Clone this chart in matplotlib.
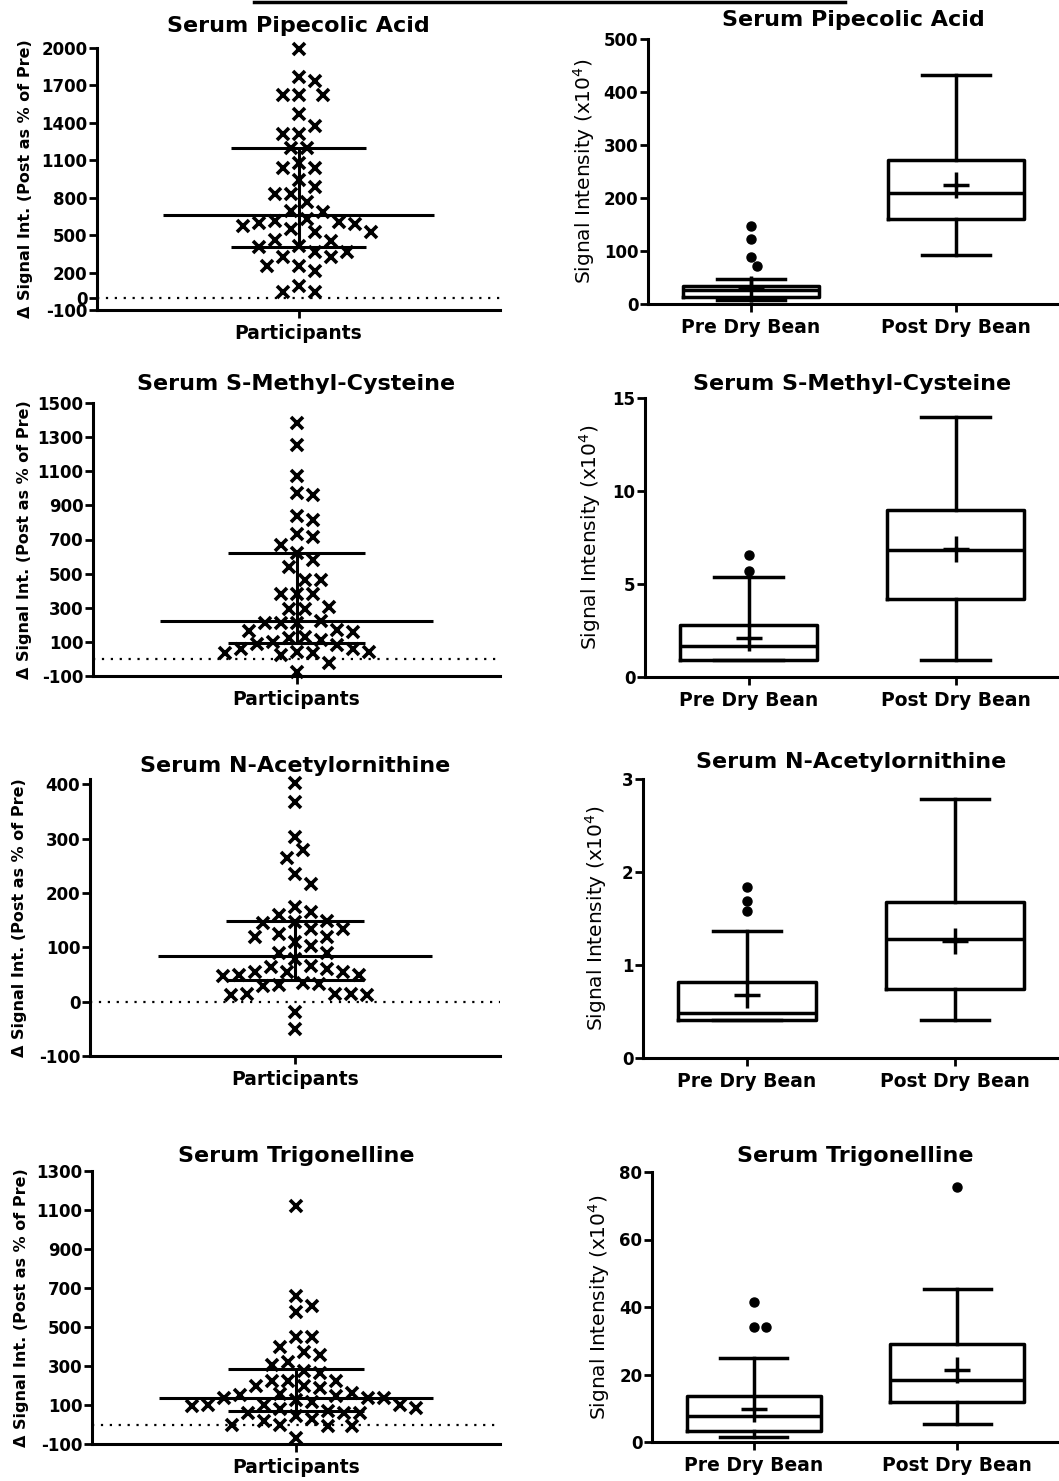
import numpy as np
import matplotlib
matplotlib.use('Agg')
import matplotlib.pyplot as plt
from matplotlib.lines import Line2D

plt.rcParams['font.family'] = 'DejaVu Sans'

# ---- data ----
titles = ["Serum Pipecolic Acid", "Serum S-Methyl-Cysteine",
          "Serum N-Acetylornithine", "Serum Trigonelline"]
groups = ["Pre Dry Bean", "Post Dry Bean"]

# change (post as % of pre), one value per participant
pip_delta = [1990, 1767, 1732, 1620, 1620, 1620, 1470, 1376, 1309, 1309, 1202, 1202,
             1082, 1036, 1036, 942, 884, 830, 830, 768, 696, 683, 616, 600, 576, 586,
             602, 629, 522, 522, 546, 455, 460, 412, 407, 361, 361, 321, 321, 254, 254,
             211, 91, 45, 45]
smc_delta = [1383, 1256, 1070, 958, 972, 835, 812, 733, 712, 665, 620, 581, 538, 464,
             464, 379, 379, 379, 307, 293, 293, 209, 209, 223, 209, 166, 170, 160, 131,
             121, 102, 111, 88, 82, 57, 43, 33, 33, 43, 61, 23, -25, -74]
nao_delta = [403, 368, 304, 280, 264, 235, 217, 174, 166, 160, 148, 146, 144, 133, 134,
             125, 120, 119, 110, 102, 90, 90, 78, 65, 61, 64, 55, 55, 54, 49, 49, 48, 35,
             32, 30, 29, 15, 15, 15, 12, 12, -19, -51]
trig_delta = [1122, 657, 610, 577, 447, 447, 396, 372, 355, 321, 304, 273, 265, 222, 222,
              225, 196, 196, 188, 159, 154, 145, 149, 137, 137, 137, 128, 114, 102, 102,
              102, 94, 85, 77, 68, 60, 60, 60, 43, 26, 17, 0, -9, -9, 0, -68]

# median, q1, q3 lines of the scatter panels
delta_median = [661, 225, 85, 137]
delta_q1 = [407, 92, 40, 68]
delta_q3 = [1197, 620, 149, 285]

# box plots: [pre, post]
box_whislo = [[8, 92], [0.93, 0.93], [0.405, 0.41], [1.4, 5.3]]
box_q1 = [[13, 160], [0.93, 4.19], [0.41, 0.745], [3.2, 12.0]]
box_med = [[26, 209], [1.68, 6.85], [0.48, 1.28], [7.8, 18.3]]
box_q3 = [[34, 272], [2.81, 8.96], [0.82, 1.675], [13.5, 29.1]]
box_whishi = [[48, 433], [5.35, 13.98], [1.37, 2.78], [24.9, 45.3]]
box_mean = [[29, 225], [2.1, 6.9], [0.675, 1.26], [9.9, 21.4]]
box_fliers = [[[72, 89, 122, 147], []],
              [[5.72, 6.54], []],
              [[1.58, 1.69, 1.835], []],
              [[34.1, 34.1, 41.4], [75.5]]]

delta_ticks = [[-100, 0, 200, 500, 800, 1100, 1400, 1700, 2000],
               [-100, 100, 300, 500, 700, 900, 1100, 1300, 1500],
               [-100, 0, 100, 200, 300, 400],
               [-100, 100, 300, 500, 700, 900, 1100, 1300]]
delta_lims = [(-100, 2000), (-100, 1500), (-100, 410), (-100, 1300)]
box_ticks = [[0, 100, 200, 300, 400, 500], [0, 5, 10, 15], [0, 1, 2, 3], [0, 20, 40, 60, 80]]
box_lims = [(0, 500), (0, 15), (0, 3), (0, 80)]

# ---- layout (pixels) ----
W, H = 1059, 1481
left_rects = [(97, 48, 500, 310), (93, 403, 500, 676), (90, 779, 500, 1056), (92, 1171, 500, 1444)]
right_rects = [(648, 39, 1059, 304), (645, 398, 1059, 677), (643, 779, 1059, 1058), (652, 1172, 1059, 1442)]
left_title_y = [26, 384, 766, 1156]
right_title_y = [20, 384, 762, 1156]
left_label_x = [26, 25, 20, 22]
right_label_x = [584, 590, 596, 599]

fig = plt.figure(figsize=(W / 100, H / 100), dpi=100)


def px_axes(r):
    x0, y0, x1, y1 = r
    return fig.add_axes([x0 / W, 1 - y1 / H, (x1 - x0) / W, (y1 - y0) / H])


def swarm(vals, ppu_y, step, dmin):
    # simple beeswarm: offsets in pixels
    vals = np.asarray(vals, float)
    out = np.zeros(len(vals))
    placed = []
    for i in np.argsort(-vals):
        y = vals[i] * ppu_y
        cands = [0.0]
        for j in range(1, 40):
            cands += [j * step, -j * step]
        for c in cands:
            if all((c - px) ** 2 + (y - py) ** 2 >= dmin ** 2 for px, py in placed):
                break
        out[i] = c
        placed.append((c, y))
    return out


def style(ax, ticks, lim):
    for s in ('top', 'right'):
        ax.spines[s].set_visible(False)
    for s in ('left', 'bottom'):
        ax.spines[s].set_linewidth(2.2)
    ax.set_ylim(lim)
    ax.set_yticks(ticks)
    ax.set_yticklabels([str(t) for t in ticks], fontsize=12, fontweight='bold')
    ax.tick_params(axis='y', width=2, length=6, pad=1)
    ax.tick_params(axis='x', width=2, length=6, pad=4, labelsize=13.5)


all_delta = [pip_delta, smc_delta, nao_delta, trig_delta]

for k in range(4):
    # left: scatter of per-participant change
    ax = px_axes(left_rects[k])
    style(ax, delta_ticks[k], delta_lims[k])
    ax.set_xlim(-1, 1)
    bw, bh = ax.bbox.width, ax.bbox.height
    lo, hi = delta_lims[k]
    offs = swarm(all_delta[k], bh / (hi - lo), 8, 15) / (bw / 2.0)
    ax.axhline(0, color='black', lw=1.6, ls=(0, (1, 3)))
    ax.plot(offs, all_delta[k], 'x', color='black', ms=9, mew=2.6, clip_on=False, zorder=3)
    ax.hlines(delta_median[k], -0.67, 0.67, color='black', lw=2.2, zorder=4)
    ax.hlines([delta_q1[k], delta_q3[k]], -0.335, 0.335, color='black', lw=2.2, zorder=4)
    ax.vlines(0, delta_q1[k], delta_q3[k], color='black', lw=2.2, zorder=4)
    ax.set_xticks([0])
    ax.set_xticklabels(['Participants'], fontweight='bold')
    ax.set_ylabel('Δ Signal Int. (Post as % of Pre)', fontsize=11.5, fontweight='bold')
    ax.yaxis.label.set_va('center')
    x0, y0, x1, y1 = left_rects[k]
    ax.yaxis.set_label_coords((left_label_x[k] - x0) / (x1 - x0), 0.5)
    fig.text((x0 + x1) / 2 / W, 1 - left_title_y[k] / H, titles[k],
             ha='center', va='center', fontsize=16, fontweight='bold')

    # right: box plots pre vs post
    ax = px_axes(right_rects[k])
    style(ax, box_ticks[k], box_lims[k])
    ax.set_xlim(0.5, 2.5)
    stats = []
    for g in range(2):
        stats.append(dict(whislo=box_whislo[k][g], q1=box_q1[k][g], med=box_med[k][g],
                          q3=box_q3[k][g], whishi=box_whishi[k][g], mean=box_mean[k][g],
                          fliers=[], label=groups[g]))
    lp = dict(color='black', lw=2.5)
    ax.bxp(stats, positions=[1, 2], widths=0.66, capwidths=0.33, showmeans=True,
           boxprops=lp, whiskerprops=lp, capprops=lp, medianprops=lp,
           meanprops=dict(marker='+', ms=19, mew=2.5, markeredgecolor='black'))
    bw, bh = ax.bbox.width, ax.bbox.height
    lo, hi = box_lims[k]
    for g in range(2):
        fl = box_fliers[k][g]
        if fl:
            fo = swarm(fl, bh / (hi - lo), 6, 10) / (bw / 2.0)
            ax.plot(g + 1 + fo, fl, 'o', color='black', ms=6.5, clip_on=False)
    ax.set_xticks([1, 2])
    ax.set_xticklabels(groups, fontweight='bold')
    ax.set_ylabel('Signal Intensity (x10$^4$)', fontsize=14.5)
    ax.yaxis.label.set_va('center')
    x0, y0, x1, y1 = right_rects[k]
    ax.yaxis.set_label_coords((right_label_x[k] - x0) / (x1 - x0), 0.5)
    fig.text((x0 + x1) / 2 / W, 1 - right_title_y[k] / H, titles[k],
             ha='center', va='center', fontsize=16, fontweight='bold')

# line fragment at the very top
fig.add_artist(Line2D([254 / W, 845 / W], [1 - 1.5 / H, 1 - 1.5 / H], color='black', lw=2.5))

fig.savefig('out.png', dpi=100)
